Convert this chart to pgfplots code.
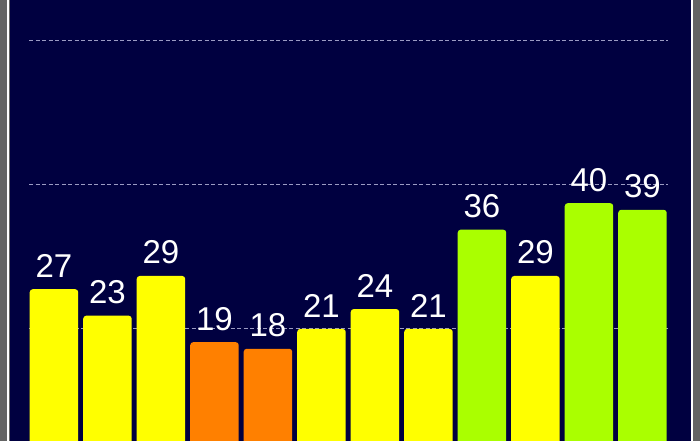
\documentclass[border=0pt]{standalone}
\usepackage{pgfplots}
\pgfplotsset{compat=1.18}
\usepackage{fontspec}
\setmainfont{Liberation Sans}

\definecolor{navy}{RGB}{0,0,64}
\definecolor{framegray}{RGB}{100,100,100}
\definecolor{barY}{RGB}{255,255,0}
\definecolor{barO}{RGB}{255,128,0}
\definecolor{barG}{RGB}{170,255,0}
\definecolor{gridc}{RGB}{155,155,195}

\begin{document}
\begin{tikzpicture}
	\useasboundingbox (0bp,0bp) rectangle (700bp,441bp);
	\clip (0bp,0bp) rectangle (700bp,441bp);
	% frame and dark background
	\fill[framegray] (0bp,0bp) rectangle (700bp,441bp);
	\fill[white] (7bp,0bp) rectangle (9bp,441bp);
	\fill[white] (691bp,0bp) rectangle (693bp,441bp);
	\fill[navy] (9.5bp,0bp) rectangle (690.5bp,441bp);
	\begin{axis}[
		at={(29bp,-26.9bp)}, anchor=south west,
		scale only axis,
		width=639bp, height=467.9bp,
		xmin=-0.467, xmax=11.477,
		ymin=0, ymax=70.7,
		axis line style={draw=none},
		tick style={draw=none},
		xtick=\empty,
		ytick={21,42.8,64.6},
		yticklabels={},
		ymajorgrids,
		grid style={gridc, line width=1bp, dash pattern=on 4bp off 2.5bp},
		ybar, bar width=48.5bp,
		/pgf/number format/assume math mode=true,
		nodes near coords,
		every node near coord/.append style={font=\fontsize{33bp}{33bp}\selectfont, text=white, anchor=south, inner sep=0pt, yshift=11.5bp},
		]
		% yellow bars
		\addplot[bar shift=0pt, draw=none, fill=barY, rounded corners=3bp] coordinates {
			(0,27) (1,23) (2,29) (5,21) (6,24) (7,21) (9,29)};
		% orange bars
		\addplot[bar shift=0pt, draw=none, fill=barO, rounded corners=3bp] coordinates {
			(3,19) (4,18)};
		% green bars
		\addplot[bar shift=0pt, draw=none, fill=barG, rounded corners=3bp] coordinates {
			(8,36) (10,40) (11,39)};
	\end{axis}
\end{tikzpicture}
\end{document}
